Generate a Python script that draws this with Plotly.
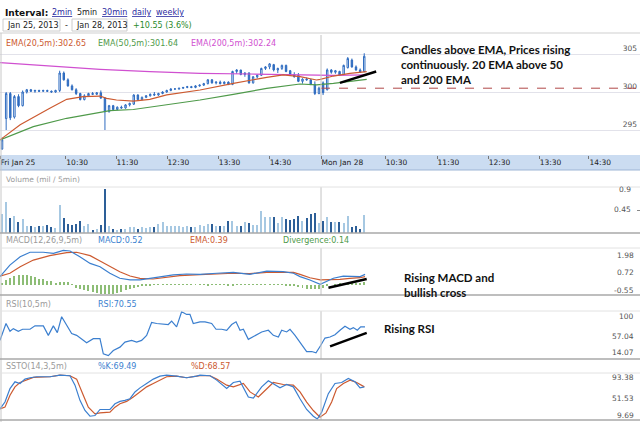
import plotly.graph_objects as go
from plotly.subplots import make_subplots

W, H = 640, 422

# ---- values: 5-minute bars, Fri Jan 25 + Mon Jan 28, 2013 ----
FRI_BARS = 78

opens = [292.5, 296.5, 299.8, 296.7, 299.4, 298.2, 300.0, 300.3, 300.1, 300.2,
         300.1, 300.2, 300.1, 300.0, 300.2, 302.5, 301.6, 300.8, 300.3, 299.8,
         299.0, 299.5, 299.8, 299.7, 299.9, 299.2, 297.4, 298.2, 297.7, 298.0,
         297.9, 298.3, 298.4, 299.6, 299.0, 299.3, 299.5, 299.7, 299.6, 299.8,
         300.0, 300.2, 300.4, 300.4, 300.5, 300.6, 300.7, 300.6, 300.8, 300.9,
         301.1, 301.6, 301.2, 301.3, 301.1, 301.3, 301.0, 302.7, 302.9, 302.3,
         302.5, 301.2, 302.0, 302.2, 303.1, 303.3, 303.6, 302.9, 303.1, 303.5,
         302.8, 302.3, 302.2, 301.4, 301.7, 301.6, 301.0, 299.8,
         301.2, 300.3, 302.9, 302.6, 302.7, 302.3, 303.2, 304.2, 303.3, 302.9, 302.7]
highs = [294.0, 300.0, 300.0, 299.6, 299.7, 300.2, 300.4, 300.4, 300.3, 300.3,
         300.3, 300.3, 300.2, 300.3, 302.8, 302.7, 301.8, 301.0, 300.5, 299.9,
         299.7, 299.9, 300.0, 300.0, 300.2, 299.3, 298.3, 298.3, 298.1, 298.2,
         298.4, 298.6, 299.7, 299.7, 299.4, 299.6, 299.8, 300.0, 299.9, 300.1,
         300.3, 300.5, 300.5, 300.5, 300.6, 300.8, 300.8, 300.9, 301.0, 301.2,
         301.7, 301.7, 301.4, 301.5, 301.4, 301.4, 302.8, 303.0, 302.9, 302.6,
         302.6, 302.1, 302.3, 303.2, 303.4, 303.8, 303.7, 303.2, 303.6, 303.6,
         302.9, 302.6, 302.5, 301.8, 301.9, 301.7, 301.4, 300.7,
         301.4, 303.1, 303.0, 302.9, 302.8, 303.6, 304.6, 304.4, 303.5, 303.1, 305.1]
lows = [292.4, 295.0, 296.3, 296.5, 298.0, 298.1, 299.8, 300.0, 299.9, 300.0,
        300.0, 300.0, 299.9, 299.9, 300.0, 301.5, 300.7, 300.2, 299.6, 298.9,
        298.9, 299.4, 299.6, 299.6, 299.1, 295.0, 297.3, 297.6, 297.6, 297.8,
        297.8, 298.1, 298.3, 298.9, 298.9, 299.2, 299.4, 299.5, 299.5, 299.7,
        299.9, 300.1, 300.3, 300.3, 300.4, 300.5, 300.5, 300.5, 300.7, 300.8,
        301.0, 301.1, 301.0, 301.0, 301.0, 300.9, 300.9, 302.4, 302.2, 302.0,
        301.1, 301.1, 301.8, 302.1, 302.9, 303.0, 302.7, 302.5, 302.9, 302.6,
        302.2, 301.9, 301.3, 301.1, 301.5, 300.9, 299.6, 299.7,
        299.6, 300.2, 302.4, 302.4, 302.1, 302.2, 303.1, 303.2, 302.8, 302.5, 302.6]
closes = [293.7, 299.8, 296.6, 299.4, 298.2, 300.0, 300.3, 300.1, 300.2, 300.1,
          300.2, 300.1, 300.0, 300.2, 302.5, 301.6, 300.8, 300.3, 299.8, 299.0,
          299.5, 299.8, 299.7, 299.9, 299.2, 297.4, 298.2, 297.7, 298.0, 297.9,
          298.3, 298.5, 299.6, 299.0, 299.3, 299.5, 299.7, 299.6, 299.8, 300.0,
          300.2, 300.4, 300.4, 300.5, 300.6, 300.7, 300.6, 300.8, 300.9, 301.1,
          301.6, 301.2, 301.3, 301.1, 301.3, 301.0, 302.7, 302.9, 302.3, 302.5,
          301.2, 302.0, 302.2, 303.1, 303.3, 303.7, 302.9, 303.1, 303.5, 302.7,
          302.3, 302.0, 301.4, 301.7, 301.6, 301.0, 299.8, 300.5,
          299.9, 302.9, 302.6, 302.8, 302.2, 303.5, 304.4, 303.3, 302.9, 302.6, 304.7]
prev_close = 300.5

volume = [0.38, 0.60, 0.30, 0.33, 0.22, 0.27, 0.14, 0.13, 0.11, 0.13,
          0.14, 0.16, 0.11, 0.09, 0.54, 0.30, 0.18, 0.16, 0.18, 0.24,
          0.14, 0.18, 0.05, 0.07, 0.16, 0.86, 0.14, 0.08, 0.06, 0.07,
          0.08, 0.11, 0.11, 0.08, 0.11, 0.09, 0.11, 0.11, 0.18, 0.21,
          0.14, 0.13, 0.13, 0.13, 0.11, 0.14, 0.11, 0.12,
          0.16, 0.14, 0.17, 0.18, 0.14, 0.14, 0.14, 0.24, 0.24, 0.14,
          0.13, 0.22, 0.19, 0.16, 0.15, 0.44, 0.31, 0.31, 0.31, 0.19,
          0.31, 0.28, 0.25, 0.27, 0.33, 0.24, 0.30, 0.38, 0.39, 0.20,
          0.24, 0.31, 0.21, 0.21, 0.21, 0.19, 0.34, 0.11, 0.14, 0.07, 0.36]

ema20_x = [0, 4.9, 12.1, 16.2, 20.2, 24.3, 25.9, 28.3, 32.4, 36.4, 40.5, 48.6,
           56.7, 60.7, 64.8, 68.8, 72.9, 76.9, 77.8, 81.0, 85.0, 89.1]
ema20 = [293.7, 295.7, 297.85, 299.04, 299.39, 299.47, 299.17, 298.95, 298.8, 299.04,
         299.61, 300.26, 301.14, 301.58, 301.93, 302.24, 302.02, 301.58, 301.67, 302.1,
         302.46, 302.68]
ema50_x = [0, 8.1, 16.2, 26.7, 32.4, 40.5, 48.6, 56.7, 64.8, 72.9, 76.9, 81.0, 85.0, 89.1]
ema50 = [293.7, 295.44, 296.54, 297.54, 297.7, 298.29, 298.95, 299.69, 300.48, 301.05,
         300.95, 301.14, 301.36, 301.67]
ema200_x = [0, 12.1, 24.3, 36.4, 48.6, 60.7, 72.9, 76.9, 81.0, 89.1]
ema200 = [303.86, 303.42, 302.98, 302.68, 302.46, 302.37, 302.28, 302.2, 302.2, 302.24]
ema_readout = [302.65, 301.64, 302.24]

macd_x = [0, 2.4, 4.9, 7.3, 10.5, 13.0, 15.4, 17.0, 19.4, 21.9, 24.3, 26.7, 29.1, 31.6,
          34.0, 36.4, 38.9, 42.1, 45.3, 48.6, 52.7, 56.7, 60.7, 64.8, 68.8, 71.3, 72.9,
          75.3, 77.8, 79.4, 81.0, 83.4, 85.8, 87.5, 88.7]
macd = [0.44, 1.06, 1.51, 1.75, 1.75, 1.69, 1.85, 1.82, 1.51, 1.15, 0.97, 0.62, 0.35, 0.26,
        0.26, 0.35, 0.44, 0.53, 0.58, 0.56, 0.62, 0.67, 0.56, 0.74, 0.71, 0.62, 0.44,
        0.26, 0.02, 0.20, 0.35, 0.47, 0.47, 0.44, 0.56]
signal_x = [0, 2.4, 4.9, 8.1, 12.1, 16.2, 18.6, 21.9, 24.3, 26.7, 29.1, 31.6, 34.0, 37.2,
            40.5, 43.7, 48.6, 52.7, 56.7, 60.7, 64.8, 68.8, 71.3, 72.9, 75.3, 77.8, 80.2,
            82.6, 85.0, 87.5, 88.7]
signal = [0.47, 0.62, 0.97, 1.33, 1.57, 1.73, 1.75, 1.57, 1.28, 0.97, 0.70, 0.47, 0.35, 0.31,
          0.40, 0.49, 0.55, 0.58, 0.62, 0.60, 0.67, 0.67, 0.67, 0.56, 0.38, 0.26, 0.26,
          0.29, 0.35, 0.38, 0.44]
divergence = [0.05,
              0.25, 0.38, 0.47, 0.50, 0.52, 0.52, 0.47, 0.41, 0.32, 0.29, 0.23, 0.20, 0.11,
              0.14, 0.16, 0.16, 0.03,
              -0.16, -0.25, -0.29, -0.34, -0.40, -0.43, -0.47, -0.49, -0.52, -0.49, -0.43,
              -0.38, -0.29, -0.22, -0.16, -0.11, -0.07, -0.04, -0.02,
              0.02, 0.03, 0.02, 0.03, 0.04, 0.03, 0.02, 0.03, 0.02, 0.02,
              0.03, 0.02, 0.01, -0.02, 0.02, 0.03, 0.03, 0.02, -0.02, -0.03,
              0.02, 0.03, 0.02, 0.02, 0.03, 0.04, 0.03, 0.02, 0.02, 0.03,
              0.02, 0.01, -0.02, -0.04,
              -0.07, -0.11, -0.16, -0.20, -0.22, -0.25, -0.25,
              -0.15, -0.06, 0.00, 0.04, 0.08, 0.10, 0.12, 0.13, 0.12, 0.12, 0.14]
macd_readout = [0.52, 0.39, 0.14]

rsi_x = [0, 1.46, 2.43, 3.24, 4.45, 5.5, 7.29, 8.5, 10.53, 11.74,
         12.96, 13.93, 14.98, 16.19, 17.41, 18.62, 19.84, 21.05, 22.67, 24.29,
         25.1, 26.32, 27.53, 29.15, 30.36, 31.98, 33.2, 34.41, 35.63, 36.84,
         38.06, 39.68, 40.89, 41.7, 42.91, 44.13, 45.34, 46.15, 46.96, 48.58,
         49.81, 51.43, 52.49, 53.86, 55.08, 56.29, 57.35, 58.32, 59.13, 60.34,
         61.96, 63.58, 65.2, 66.41, 67.63, 68.44, 69.65, 70.46, 71.68, 72.89,
         74.51, 75.73, 76.78, 77.91, 78.96, 80.18, 81.39, 82.61, 83.82, 85.04,
         85.85, 86.82, 87.63, 88.68]
rsi = [47.4, 77.6, 63.7, 68.5, 63.7, 67.3, 67.3, 73.4, 73.4, 56.4,
       73.4, 61.3, 89.7, 74.6, 59.5, 56.4, 50.4, 43.1, 50.4, 50.4,
       23.2, 20.2, 29.2, 35.3, 44.3, 47.4, 44.3, 47.4, 56.4, 79.4,
       77.6, 75.8, 75.8, 81.8, 71.5, 98.7, 93.9, 93.9, 77.6, 80.6,
       80.6, 77.6, 67.3, 67.3, 65.5, 75.8, 80.6, 65.5, 67.3, 49.2,
       56.4, 62.5, 65.5, 56.4, 53.4, 65.5, 62.5, 67.3, 56.4, 44.3,
       27.4, 27.4, 25.0, 38.3, 51.6, 53.4, 57.6, 65.5, 72.8, 67.3,
       70.3, 65.5, 71.5, 71.5]
rsi_readout = 70.55

k_x = [0, 1.21, 2.43, 3.64, 4.86, 6.07, 7.29, 8.91, 12.15, 14.57,
       17.0, 18.22, 19.43, 20.65, 21.86, 23.08, 24.29, 26.72, 27.94, 29.15,
       30.36, 31.58, 32.79, 34.01, 35.63, 37.25, 38.87, 40.49, 42.91, 45.34,
       47.77, 48.6, 51.03, 52.65, 55.08, 56.7, 58.32, 60.34, 61.56, 63.58,
       65.2, 66.41, 68.03, 69.65, 71.27, 72.89, 74.51, 76.13, 77.1, 78.16,
       79.77, 81.39, 83.01, 84.63, 86.25, 87.47, 88.52]
pct_k = [29.6, 41.6, 65.7, 77.7, 74.7, 82.5, 84.9, 86.7, 86.7, 89.7,
         88.5, 71.7, 44.6, 26.6, 16.4, 17.6, 28.4, 28.4, 38.6, 42.8,
         44.6, 47.6, 59.7, 66.9, 74.7, 82.5, 87.9, 89.7, 87.9, 84.9,
         87.9, 89.7, 88.5, 80.7, 65.7, 76.5, 78.9, 50.6, 48.8, 68.7,
         79.5, 74.7, 66.9, 72.9, 68.7, 47.6, 28.4, 16.4, 11.5, 23.6,
         56.6, 74.7, 76.5, 83.7, 77.7, 66.9, 68.7]
d_x = [0, 1.21, 2.43, 3.64, 4.86, 6.48, 8.1, 12.15, 14.57, 17.0,
       18.62, 20.24, 21.46, 23.08, 24.29, 26.72, 27.94, 29.15, 30.77, 32.39,
       34.01, 35.63, 37.25, 38.87, 40.49, 42.91, 45.34, 47.77, 48.6, 51.03,
       52.65, 55.08, 56.7, 59.13, 60.75, 62.77, 64.79, 66.41, 68.84, 71.27,
       72.89, 74.51, 76.13, 77.75, 79.21, 80.58, 81.8, 83.42, 85.04, 86.66,
       88.52]
pct_d = [29.6, 32.6, 53.7, 68.7, 76.5, 80.7, 85.5, 86.7, 89.7, 88.5,
         82.5, 53.7, 32.6, 20.6, 22.4, 23.6, 32.6, 38.6, 42.8, 50.6,
         59.7, 68.7, 74.7, 80.7, 86.7, 87.9, 84.9, 87.9, 88.5, 88.5,
         82.5, 71.7, 68.7, 74.7, 59.7, 50.6, 65.7, 76.5, 72.9, 71.7,
         59.7, 41.6, 26.6, 14.6, 22.4, 41.6, 65.7, 74.7, 80.7, 76.5,
         68.7]
ssto_readout = [69.49, 68.57]

# hand-drawn trend strokes (start, end)
price_trend_x, price_trend = [82.6, 91.4], [301.2, 302.7]
macd_trend_x, macd_trend = [79.8, 89.1], [-0.16, 0.31]
rsi_trend_x, rsi_trend = [80.2, 89.1], [36.6, 60.7]

tick_bars = [0, 16, 28.2, 40.6, 53, 65.4, 78, 93.6, 106.2, 118.6, 131, 143.1]
tick_text = ["Fri Jan 25", "10:30", "11:30", "12:30", "13:30", "14:30",
             "Mon Jan 28", "10:30", "11:30", "12:30", "13:30", "14:30"]
price_ticks = [295, 300, 305]
vol_labels = [0.9, 0.45]
macd_labels = [1.98, 0.72, -0.55]
rsi_labels = [100, 57.04, 14.07]
ssto_labels = [93.38, 51.53, 9.69]

# ---- styling ----
FONT = "DejaVu Sans"
BLUE = "#2f6cc0"
LINE_BLUE = "#3b7fcf"
RED = "#cc5a30"
GREEN = "#4f9a4a"
MAGENTA = "#d050d0"
X_RANGE = [0, 155.5]

# panel pixel extents (top, bottom)
PANELS = {1: (35, 155), 2: (187, 233), 3: (248, 295), 4: (311, 359), 5: (373, 420)}


def dom(top, bottom):
    return [1 - bottom / H, 1 - top / H]


def py(y):
    return 1 - y / H


bar_x = [i + 0.5 for i in range(len(closes))]

fig = make_subplots(rows=5, cols=1, shared_xaxes=True, vertical_spacing=0.01)

fig.add_trace(go.Candlestick(
    x=bar_x, open=opens, high=highs, low=lows, close=closes,
    increasing=dict(line=dict(color=BLUE, width=1), fillcolor="white"),
    decreasing=dict(line=dict(color=BLUE, width=1), fillcolor=BLUE),
    whiskerwidth=0, hoverinfo="skip"), row=1, col=1)
for xs, ys, c in [(ema200_x, ema200, MAGENTA), (ema50_x, ema50, GREEN), (ema20_x, ema20, RED)]:
    fig.add_trace(go.Scatter(x=xs, y=ys, mode="lines", line=dict(color=c, width=1.2),
                             hoverinfo="skip"), row=1, col=1)
fig.add_trace(go.Scatter(x=price_trend_x, y=price_trend, mode="lines",
                         line=dict(color="black", width=2.5)), row=1, col=1)

vol_colors = ["#2d5f98" if c < o else "#a6c8e2" for o, c in zip(opens, closes)]
fig.add_trace(go.Bar(x=bar_x, y=volume, width=0.28, marker=dict(color=vol_colors, line_width=0),
                     hoverinfo="skip"), row=2, col=1)

fig.add_trace(go.Bar(x=bar_x, y=divergence, width=0.24, marker=dict(color="#8dbd76", line_width=0),
                     hoverinfo="skip"), row=3, col=1)
fig.add_trace(go.Scatter(x=signal_x, y=signal, mode="lines", line=dict(color=RED, width=1.2)), row=3, col=1)
fig.add_trace(go.Scatter(x=macd_x, y=macd, mode="lines", line=dict(color=LINE_BLUE, width=1.2)), row=3, col=1)
fig.add_trace(go.Scatter(x=macd_trend_x, y=macd_trend, mode="lines",
                         line=dict(color="black", width=2.5)), row=3, col=1)

fig.add_trace(go.Scatter(x=rsi_x, y=rsi, mode="lines", line=dict(color=LINE_BLUE, width=1.2)), row=4, col=1)
fig.add_trace(go.Scatter(x=rsi_trend_x, y=rsi_trend, mode="lines",
                         line=dict(color="black", width=2.5)), row=4, col=1)

fig.add_trace(go.Scatter(x=d_x, y=pct_d, mode="lines", line=dict(color=RED, width=1.2)), row=5, col=1)
fig.add_trace(go.Scatter(x=k_x, y=pct_k, mode="lines", line=dict(color=LINE_BLUE, width=1.2)), row=5, col=1)

# axes
fig.update_xaxes(range=X_RANGE, showgrid=False, zeroline=False, showticklabels=False, ticks="",
                 rangeslider_visible=False, fixedrange=True)
fig.update_xaxes(row=1, col=1, showticklabels=True, tickmode="array", tickvals=tick_bars,
                 ticktext=tick_text, ticks="outside", ticklen=3, tickcolor="#777",
                 ticklabelposition="outside right",
                 tickfont=dict(family=FONT, size=7.5, color="#222"))
fig.update_yaxes(showgrid=False, zeroline=False, showticklabels=False, fixedrange=True, side="right")
fig.update_yaxes(row=1, col=1, range=[291.71, 307.5], showgrid=True, gridcolor="#e2e2ea",
                 tickmode="array", tickvals=price_ticks, showticklabels=True,
                 ticklabelposition="inside top", tickfont=dict(family=FONT, size=7.5, color="#555"))
fig.update_yaxes(row=2, col=1, range=[0, vol_labels[0]], tickmode="array", tickvals=vol_labels,
                 ticks="inside", ticklen=3, tickcolor="#888")
fig.update_yaxes(row=3, col=1, range=[macd_labels[-1], macd_labels[0]])
fig.update_yaxes(row=4, col=1, range=[rsi_labels[-1], rsi_labels[0]])
fig.update_yaxes(row=5, col=1, range=[ssto_labels[-1], ssto_labels[0]])

layout_axes = {}
for r, (top, bottom) in PANELS.items():
    layout_axes["yaxis" if r == 1 else f"yaxis{r}"] = dict(domain=dom(top, bottom))
fig.update_layout(**layout_axes)

# shapes
shapes = [
    dict(type="rect", xref="paper", yref="paper", x0=0, x1=1, y0=py(170), y1=py(155),
         fillcolor="#cbdcf1", line_width=0, layer="below"),
    dict(type="line", xref="paper", yref="paper", x0=0, x1=1, y0=py(170), y1=py(170),
         line=dict(color="#9db5d5", width=1)),
    dict(type="line", xref="paper", yref="paper", x0=0, x1=1, y0=py(33), y1=py(33),
         line=dict(color="#cfcfcf", width=1)),
    dict(type="line", xref="paper", yref="paper", x0=1 / W, x1=1 / W, y0=0, y1=py(33),
         line=dict(color="#c8c8c8", width=1)),
    dict(type="rect", xref="paper", yref="paper", x0=3 / W, x1=60 / W, y0=py(31), y1=py(19),
         line=dict(color="#cccccc", width=1)),
    dict(type="rect", xref="paper", yref="paper", x0=72 / W, x1=127 / W, y0=py(31), y1=py(19),
         line=dict(color="#cccccc", width=1)),
    dict(type="line", xref="x", yref="y", x0=FRI_BARS, x1=X_RANGE[1], y0=prev_close, y1=prev_close,
         line=dict(color="#b04848", width=1, dash="dash")),
]
for r, (top, bottom) in PANELS.items():
    yd = "y domain" if r == 1 else f"y{r} domain"
    xr = "x" if r == 1 else f"x{r}"
    shapes.append(dict(type="line", xref=xr, yref=yd, x0=FRI_BARS, x1=FRI_BARS, y0=0, y1=1,
                       line=dict(color="#c4c4c4", width=1)))
    if r > 1:
        shapes.append(dict(type="line", xref="paper", yref="paper", x0=0, x1=1,
                           y0=py(top), y1=py(top), line=dict(color="#e2e2e2", width=1)))
        shapes.append(dict(type="line", xref="paper", yref="paper", x0=0, x1=1,
                           y0=py(bottom), y1=py(bottom), line=dict(color="#a8a8a8", width=1.5)))
fig.update_layout(shapes=shapes)

# texts
ann = []


def text(t, x, y, size=8, color="#333", weight="normal", family=FONT, xanchor="left",
         yanchor="middle", under=False):
    ann.append(dict(text=t, x=x / W, y=py(y), xref="paper", yref="paper", showarrow=False,
                    xanchor=xanchor, yanchor=yanchor, align="left", borderpad=0,
                    font=dict(family=family, size=size, color=color, weight=weight,
                              lineposition="under" if under else "none")))


LINK = "#2a2aa0"
text("Interval:", 4, 12.5, size=9, color="#111", weight="bold")
text("2min", 51, 12.5, color=LINK, under=True)
text("5min", 76, 12.5, color="#222")
text("30min", 101, 12.5, color=LINK, under=True)
text("daily", 131, 12.5, color=LINK, under=True)
text("weekly", 155, 12.5, color=LINK, under=True)
text("Jan 25, 2013", 6, 25, color="#222")
text("-", 64, 25, color="#222")
text("Jan 28, 2013", 75, 25, color="#222")
text("+10.55 (3.6%)", 132, 25, color="#2b8a2b")

text(f"EMA(20,5m):{ema_readout[0]:.2f}", 5, 43.5, color=RED)
text(f"EMA(50,5m):{ema_readout[1]:.2f}", 97, 43.5, color=GREEN)
text(f"EMA(200,5m):{ema_readout[2]:.2f}", 190, 43.5, color=MAGENTA)

text("Volume (mil / 5min)", 5, 179, size=7.5, color="#9a9a9a")
text("MACD(12,26,9,5m)", 5, 241, color="#9a9a9a")
text(f"MACD:{macd_readout[0]:.2f}", 97, 241, color=LINE_BLUE)
text(f"EMA:{macd_readout[1]:.2f}", 189, 241, color=RED)
text(f"Divergence:{macd_readout[2]:.2f}", 282, 241, color=GREEN)
text("RSI(10,5m)", 5, 304, color="#9a9a9a")
text(f"RSI:{rsi_readout:.2f}", 97, 304, color=LINE_BLUE)
text("SSTO(14,3,5m)", 5, 366, color="#9a9a9a")
text(f"%K:{ssto_readout[0]:.2f}", 97, 366, color=LINE_BLUE)
text(f"%D:{ssto_readout[1]:.2f}", 190, 366, color=RED)

NOTE = dict(family="Lato", size=11.5, color="#111", weight="bold")
text("Candles above EMA, Prices rising<br>continuously. 20 EMA above 50<br>and 200 EMA",
     400, 42, yanchor="top", **NOTE)
text("Rising MACD and<br>bullish cross", 403, 270, yanchor="top", **NOTE)
text("Rising RSI", 383, 328, **NOTE)

# right-hand scale labels for the indicator panels
for r, labels, fracs in [(2, vol_labels, [0.935, 0.52]),
                         (3, macd_labels, [0.85, 0.48, 0.09]),
                         (4, rsi_labels, [0.88, 0.47, 0.13]),
                         (5, ssto_labels, [0.9, 0.45, 0.1])]:
    for v, f in zip(labels, fracs):
        ann.append(dict(text=f"{v:g}", x=(636 if r != 2 else 633) / W, y=f, xref="paper",
                        yref=f"y{r} domain", showarrow=False, xanchor="right", yanchor="middle",
                        font=dict(family=FONT, size=7.5, color="#555")))

fig.update_layout(
    annotations=ann,
    width=W, height=H,
    margin=dict(l=0, r=0, t=0, b=0),
    paper_bgcolor="white", plot_bgcolor="white",
    showlegend=False, bargap=0, boxgap=0.5,
)

fig.write_html("out.html", config={"displayModeBar": False},
               post_script="document.body.style.margin='0';document.body.style.overflow='hidden';")
